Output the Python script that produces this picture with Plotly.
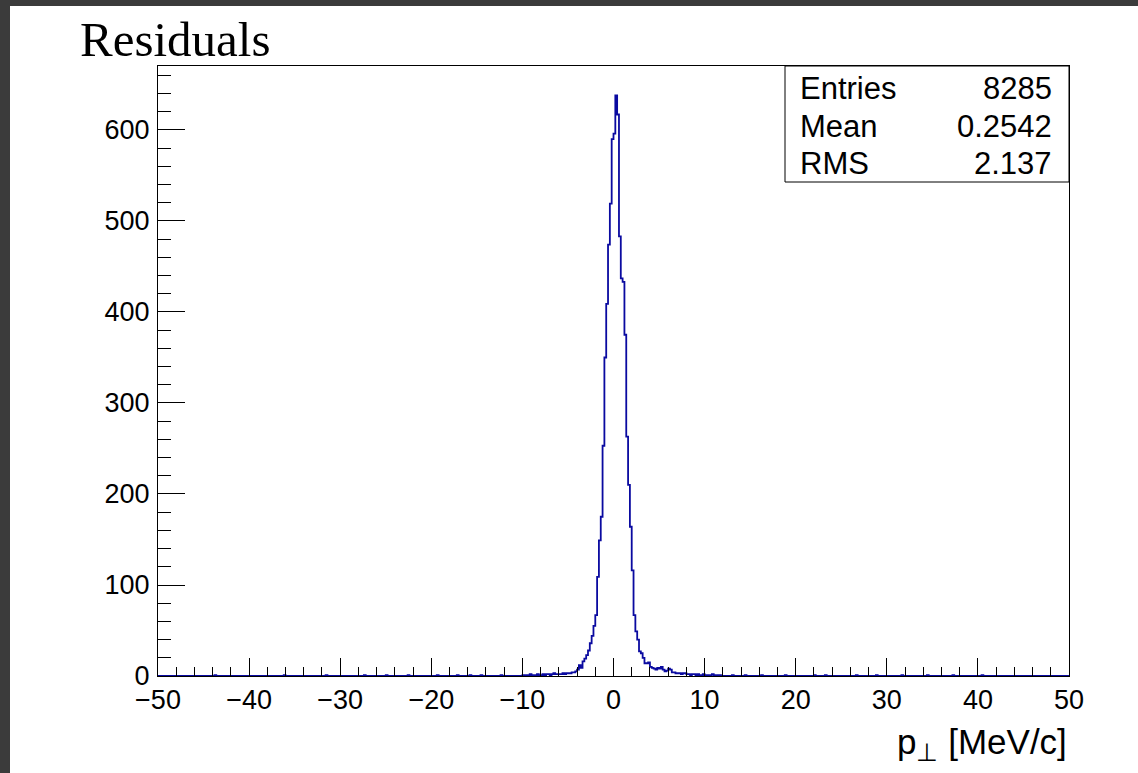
import numpy as np
import plotly.graph_objects as go

# ---------------- data ----------------
x_min, x_max = -50.0, 50.0
n_bins = 500

# counts for consecutive 0.2-wide bins, first bin starting at core_start
core_start = -10.0
core_counts = [
    # -10.0 .. -6.2
    1, 0, 1, 1, 2, 1, 0, 1, 2, 1, 1, 2, 1, 2, 2, 1, 2, 3, 2, 2,
    # -6.0 .. -0.2
    2, 2, 3, 2, 3, 3, 3, 4, 4, 5,
    7, 12, 9, 16, 19, 23, 28, 36, 44, 55,
    67, 109, 149, 175, 253, 350, 409, 474, 519, 590,
    # 0.0 .. 7.8
    596, 638, 617, 483, 437, 433, 375, 263, 210, 164,
    116, 67, 49, 40, 27, 25, 20, 14, 14, 15,
    10, 9, 8, 7, 9, 8, 10, 7, 5, 6,
    8, 7, 4, 4, 3, 3, 3, 2, 3, 3,
    # 8.0 .. 11.8
    2, 2, 1, 2, 2, 1, 2, 1, 1, 2, 1, 1, 0, 1, 2, 1, 0, 1, 1, 0,
]

# isolated entries in the far tails
tail_x = [-43.7, -36.1, -31.5, -27.3, -24.9, -22.5, -19.3, -17.1, -15.7, -14.5, -12.3,
          13.1, 14.5, 16.3, 18.9, 22.1, 23.3, 26.7, 28.9, 31.7, 34.5, 37.3, 40.5]
tail_counts = [1] * len(tail_x)

stats_labels = ["Entries", "Mean", "RMS"]
stats_values = ["8285", "0.2542", "2.137"]

title_text = "Residuals"
x_title = "p<sub>⊥</sub> [MeV/c]"

# ---------------- build histogram ----------------
edges = np.linspace(x_min, x_max, n_bins + 1)
width = (x_max - x_min) / n_bins
counts = np.zeros(n_bins)
i0 = int(round((core_start - x_min) / width))
counts[i0:i0 + len(core_counts)] = core_counts
for tx, tc in zip(tail_x, tail_counts):
    counts[int((tx - x_min) // width)] += tc

xs = list(edges)
ys = list(counts) + [counts[-1]]

fig = go.Figure()
fig.add_trace(go.Scatter(
    x=xs, y=ys, mode="lines", line=dict(color="#0a0aa0", width=1.8, shape="hv"),
    hoverinfo="skip", showlegend=False,
))

# ---------------- layout ----------------
L, R, T, B = 158, 69, 66, 97
W, H = 1138, 773
pw, ph = W - L - R, H - T - B


def px(xp):
    return (xp - L) / pw


def py(yp):
    return (H - B - yp) / ph


tick_font = dict(family="Liberation Sans, Arial, sans-serif", size=27, color="black")

fig.update_layout(
    width=W, height=H,
    margin=dict(l=L, r=R, t=T, b=B, pad=0),
    paper_bgcolor="white", plot_bgcolor="white",
    xaxis=dict(
        range=[x_min, x_max], showgrid=False, zeroline=False,
        showline=True, linecolor="black", linewidth=1, mirror=True,
        ticks="inside", ticklen=18, tickwidth=1, tickcolor="black",
        tick0=-50, dtick=10, tickfont=tick_font,
        minor=dict(ticks="inside", ticklen=9, dtick=2, tickcolor="black", tickwidth=1, showgrid=False),
    ),
    yaxis=dict(
        range=[0, 670.3], showgrid=False, zeroline=False,
        showline=True, linecolor="black", linewidth=1, mirror=True,
        ticks="inside", ticklen=27, tickwidth=1, tickcolor="black",
        tick0=0, dtick=100, tickfont=tick_font, ticklabelstandoff=2,
        minor=dict(ticks="inside", ticklen=13, dtick=20, tickcolor="black", tickwidth=1, showgrid=False),
    ),
)

shapes = [
    # dark frame bands
    dict(type="rect", xref="paper", yref="paper", x0=px(0), x1=px(10), y0=py(H), y1=py(0),
         fillcolor="#3b3b3b", line=dict(width=0), layer="above"),
    dict(type="rect", xref="paper", yref="paper", x0=px(0), x1=px(W), y0=py(6), y1=py(0),
         fillcolor="#3b3b3b", line=dict(width=0), layer="above"),
    # stats box
    dict(type="rect", xref="paper", yref="paper", x0=px(785), x1=1, y0=py(182), y1=1,
         fillcolor="white", line=dict(color="black", width=1), layer="above"),
]
fig.update_layout(shapes=shapes)

stat_font = dict(family="Liberation Sans, Arial, sans-serif", size=31, color="black")
row_y = [88, 126, 163]
ann = []
for lab, val, yy in zip(stats_labels, stats_values, row_y):
    ann.append(dict(text=lab, x=px(798), y=py(yy), xref="paper", yref="paper",
                    xanchor="left", yanchor="middle", showarrow=False, font=stat_font))
    ann.append(dict(text=val, x=px(1054), y=py(yy), xref="paper", yref="paper",
                    xanchor="right", yanchor="middle", showarrow=False, font=stat_font))

ann.append(dict(text=title_text, x=px(78), y=py(39), xref="paper", yref="paper",
                xanchor="left", yanchor="middle", showarrow=False,
                font=dict(family="Liberation Serif, Times New Roman, serif", size=49, color="black")))
ann.append(dict(text=x_title, x=1, y=py(744), xref="paper", yref="paper",
                xanchor="right", yanchor="middle", showarrow=False,
                font=dict(family="Liberation Sans, Arial, sans-serif", size=35, color="black")))
fig.update_layout(annotations=ann)

fig.write_html("out.html")
